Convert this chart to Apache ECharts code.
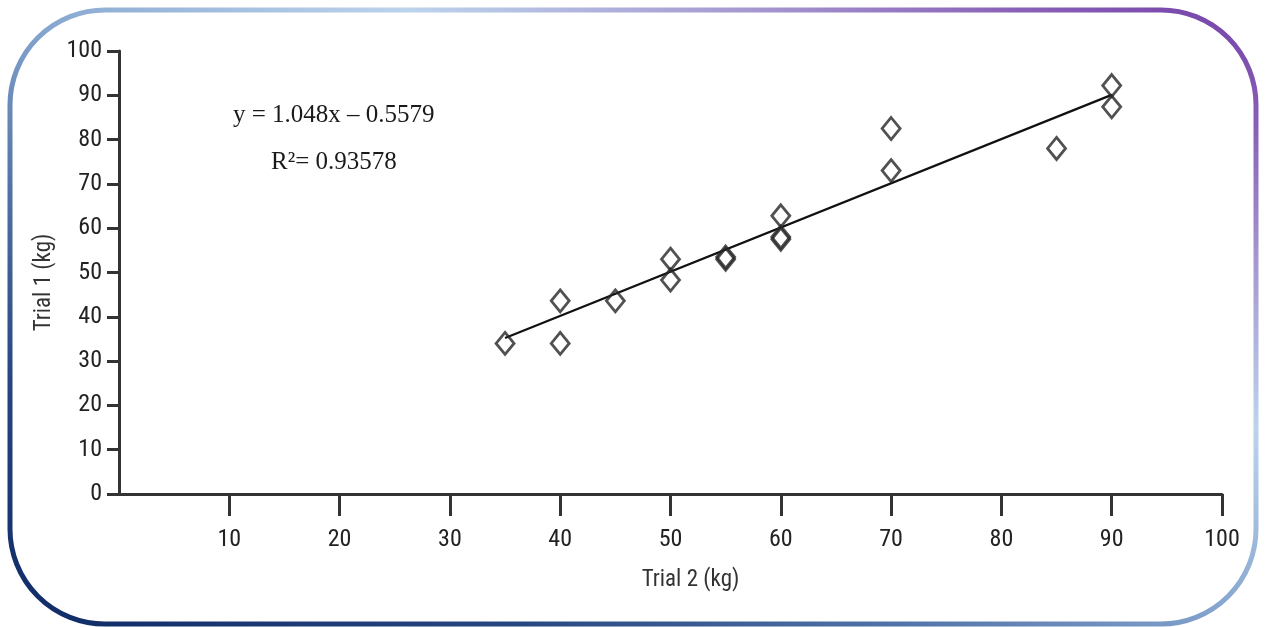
<!DOCTYPE html>
<html>
<head>
<meta charset="utf-8">
<script src="https://cdn.jsdelivr.net/npm/echarts@6/dist/echarts.min.js"></script>
<style>
html,body{margin:0;padding:0;background:#fff;}
#chart{width:1267px;height:627px;}
</style>
</head>
<body>
<div id="chart"></div>
<script>
// Data
var trial2 = [35, 40, 40, 45, 50, 50, 55, 55, 60, 60, 60, 70, 70, 85, 90, 90];
var trial1 = [34, 43.6, 34, 43.6, 53, 48.3, 53, 53.5, 57.5, 58, 62.8, 82.5, 73, 78, 92.2, 87.4];
var trendX = [35, 90];
var trendY = [35.2, 90.1];
var xTicks = [10, 20, 30, 40, 50, 60, 70, 80, 90, 100];
var equationText = 'y = 1.048x \u2013 0.5579';
var r2Text = 'R\u00b2= 0.93578';

var points = trial2.map(function (x, i) { return [x, trial1[i]]; });
var trend = trendX.map(function (x, i) { return [x, trendY[i]]; });

var chart = echarts.init(document.getElementById('chart'), null, {renderer: 'canvas'});
var labelFont = '"Roboto Condensed", "DejaVu Sans Condensed", sans-serif';
var axisColor = '#333';

chart.setOption({
  animation: false,
  backgroundColor: '#fff',
  grid: {left: 119, right: 45, top: 51, bottom: 133},
  xAxis: {
    type: 'value', min: 0, max: 100, interval: 10,
    name: 'Trial 2 (kg)', nameLocation: 'middle', nameGap: 75,
    nameTextStyle: {fontFamily: labelFont, fontSize: 23, color: '#333', padding: [0, 0, 0, 40]},
    axisLine: {show: true, onZero: false, lineStyle: {color: axisColor, width: 3}},
    axisTick: {show: true, length: 22, lineStyle: {color: axisColor, width: 3}, customValues: xTicks},
    axisLabel: {fontFamily: labelFont, fontSize: 24, color: '#222', margin: 34, customValues: xTicks},
    splitLine: {show: false}
  },
  yAxis: {
    type: 'value', min: 0, max: 100, interval: 10,
    name: 'Trial 1 (kg)', nameLocation: 'middle', nameGap: 57,
    nameTextStyle: {fontFamily: labelFont, fontSize: 23, color: '#333', padding: [0, 20, 0, 0]},
    axisLine: {show: true, lineStyle: {color: axisColor, width: 3}},
    axisTick: {show: true, length: 12, lineStyle: {color: axisColor, width: 3}},
    axisLabel: {fontFamily: labelFont, fontSize: 24, color: '#222', margin: 17},
    splitLine: {show: false}
  },
  series: [
    {
      type: 'line', data: trend, symbol: 'none', silent: true,
      lineStyle: {color: '#111', width: 2.2}, z: 2
    },
    {
      type: 'scatter', data: points, symbol: 'diamond', symbolSize: [18, 22],
      itemStyle: {color: 'rgba(255,255,255,0)', borderColor: '#262626', borderWidth: 2.8},
      z: 3
    }
  ],
  graphic: [
    {
      type: 'rect', silent: true, z: 100,
      shape: {x: 10, y: 10, width: 1246, height: 614, r: 95},
      style: {
        fill: 'none', lineWidth: 5,
        stroke: new echarts.graphic.LinearGradient(10, 624, 497, -364, [
          {offset: 0, color: '#0f2a66'},
          {offset: 0.2, color: '#26467f'},
          {offset: 0.35, color: '#4f71a6'},
          {offset: 0.5, color: '#86a6cf'},
          {offset: 0.66, color: '#bcd3ec'},
          {offset: 0.8, color: '#a596cf'},
          {offset: 0.9, color: '#8a62b8'},
          {offset: 1, color: '#7440a8'}
        ], true)
      }
    },
    {
      type: 'text', left: 233, top: 103,
      style: {text: equationText, font: '25px "Liberation Serif", "Times New Roman", serif', fill: '#1a1a1a'}
    },
    {
      type: 'text', left: 271, top: 150,
      style: {text: r2Text, font: '25px "Liberation Serif", "Times New Roman", serif', fill: '#1a1a1a'}
    }
  ]
});
</script>
</body>
</html>
